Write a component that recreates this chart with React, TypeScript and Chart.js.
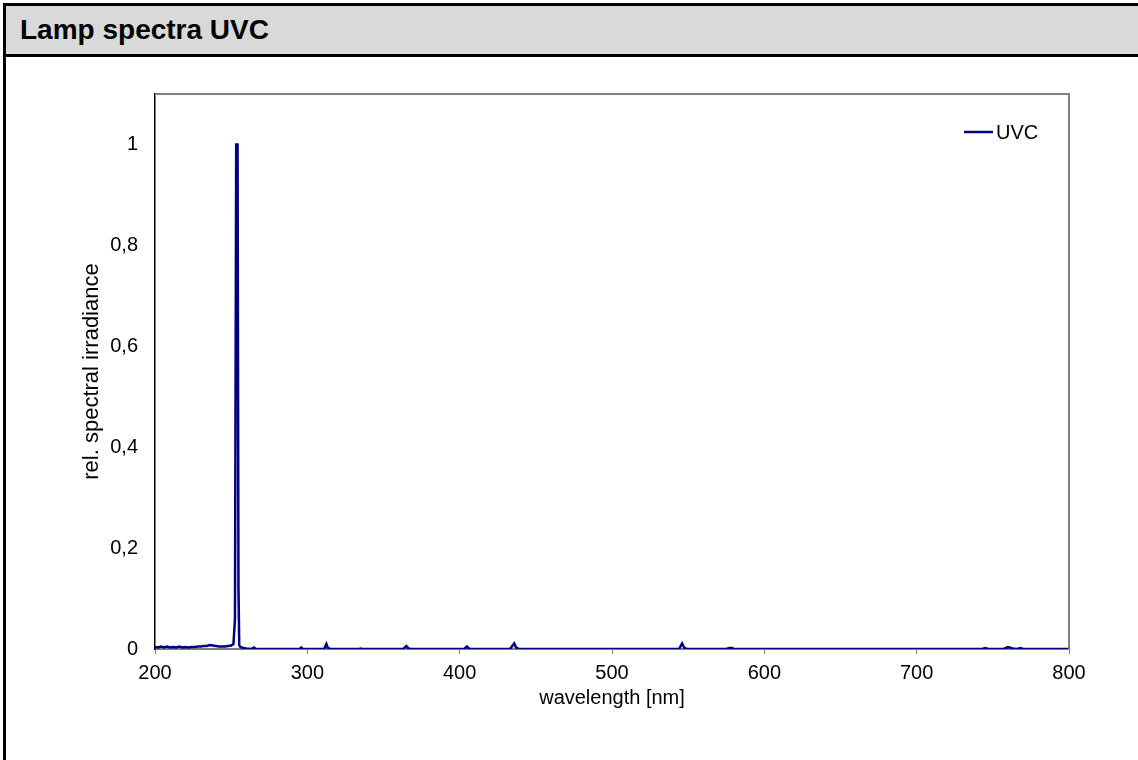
import React, { useEffect, useRef } from "react";
import { Chart, registerables } from "chart.js";

Chart.register(...registerables);

const TITLE = "Lamp spectra UVC";
const SERIES_LABEL = "UVC";
const X_TITLE = "wavelength [nm]";
const Y_TITLE = "rel. spectral irradiance";

const xTickValues = [200, 300, 400, 500, 600, 700, 800];
const yTickValues = [0, 0.2, 0.4, 0.6, 0.8, 1];
const yTickLabels = ["0", "0,2", "0,4", "0,6", "0,8", "1"];

const wavelengths = [
  200, 202, 204, 206, 208, 210, 212, 214, 216, 218, 220, 222, 224, 226, 228, 230,
  232, 234, 236, 238, 240, 242, 244, 246, 248, 250, 251.5, 252.5, 253.3, 254.2,
  254.8, 255.3, 256, 258, 260, 263, 265, 266, 270, 290, 295, 296, 297, 311, 312.5,
  313.5, 315, 334, 335, 336, 363, 365, 366.5, 368, 403, 404.7, 406, 407, 433, 435.8,
  437, 439, 544, 546, 547.5, 549, 575, 577, 579, 580, 600, 650, 700, 743, 745, 747,
  757, 760, 763, 766, 768, 770, 800,
];
const irradiance = [
  0.004, 0.003, 0.005, 0.003, 0.005, 0.003, 0.004, 0.003, 0.005, 0.003, 0.004, 0.003,
  0.004, 0.004, 0.005, 0.005, 0.006, 0.006, 0.008, 0.007, 0.006, 0.005, 0.005, 0.005,
  0.006, 0.007, 0.01, 0.06, 1.0, 1.0, 0.12, 0.008, 0.004, 0.002, 0.001, 0.0, 0.003,
  0.0, 0.0, 0.0, 0.0, 0.003, 0.0, 0.0, 0.01, 0.002, 0.0, 0.0, 0.001, 0.0, 0.0, 0.006,
  0.001, 0.0, 0.0, 0.005, 0.001, 0.0, 0.0, 0.011, 0.003, 0.0, 0.0, 0.011, 0.002, 0.0,
  0.0, 0.002, 0.002, 0.0, 0.0, 0.0, 0.0, 0.0, 0.002, 0.0, 0.0, 0.004, 0.001, 0.0,
  0.002, 0.0, 0.0,
];

const LINE_COLOR = "#000080";
const FONT_FAMILY = "'Liberation Sans', Arial, sans-serif";

const framePlugin = {
  id: "frameAndLegend",
  afterDatasetsDraw(chart: any) {
    const { ctx, chartArea } = chart;
    const { left, right, top, bottom } = chartArea;
    ctx.save();
    ctx.strokeStyle = "#7f7f7f";
    ctx.lineWidth = 2;
    ctx.beginPath();
    ctx.moveTo(left, top);
    ctx.lineTo(right, top);
    ctx.lineTo(right, bottom);
    ctx.stroke();
    // legend
    const ds = chart.data.datasets[0];
    const ly = top + 38;
    const lx = right - 105;
    ctx.strokeStyle = ds.borderColor;
    ctx.lineWidth = 2.5;
    ctx.beginPath();
    ctx.moveTo(lx, ly);
    ctx.lineTo(lx + 29, ly);
    ctx.stroke();
    ctx.fillStyle = "#000";
    ctx.font = `20px ${FONT_FAMILY}`;
    ctx.textBaseline = "middle";
    ctx.textAlign = "left";
    ctx.fillText(ds.label, lx + 32, ly + 1);
    ctx.restore();
  },
};

function SpectrumChart() {
  const ref = useRef<HTMLCanvasElement | null>(null);
  useEffect(() => {
    if (!ref.current) return;
    const points = wavelengths.map((x, i) => ({ x, y: irradiance[i] }));
    const chart = new Chart(ref.current, {
      type: "scatter",
      data: {
        datasets: [
          {
            label: SERIES_LABEL,
            data: points,
            showLine: true,
            borderColor: LINE_COLOR,
            backgroundColor: LINE_COLOR,
            borderWidth: 2.5,
            pointRadius: 0,
            tension: 0,
          },
        ],
      },
      options: {
        animation: false,
        responsive: false,
        devicePixelRatio: 1,
        layout: { padding: { top: 37, right: 69, left: 0, bottom: 0 } },
        plugins: { legend: { display: false }, tooltip: { enabled: false } },
        scales: {
          x: {
            type: "linear",
            min: 200,
            max: 800,
            afterFit: (s: any) => {
              s.height = 111;
            },
            afterBuildTicks: (s: any) => {
              s.ticks = xTickValues.map((v) => ({ value: v }));
            },
            grid: {
              display: true,
              drawOnChartArea: false,
              drawTicks: true,
              tickLength: 5,
              color: "#7f7f7f",
            },
            border: { display: true, color: "#7f7f7f", width: 2 },
            ticks: {
              color: "#000",
              font: { family: FONT_FAMILY, size: 20 },
              padding: 7,
              maxRotation: 0,
              autoSkip: false,
            },
            title: {
              display: true,
              text: X_TITLE,
              color: "#000",
              font: { family: FONT_FAMILY, size: 20 },
              padding: { top: 0, bottom: 50 },
            },
          },
          y: {
            type: "linear",
            min: 0,
            max: 1.1,
            afterFit: (s: any) => {
              s.width = 155;
            },
            afterBuildTicks: (s: any) => {
              s.ticks = yTickValues.map((v) => ({ value: v }));
            },
            grid: { display: false, drawTicks: false },
            border: { display: true, color: "#000", width: 1.5 },
            ticks: {
              color: "#000",
              font: { family: FONT_FAMILY, size: 20 },
              padding: 17,
              callback: (v: any) => {
                const i = yTickValues.findIndex((t) => Math.abs(t - Number(v)) < 1e-9);
                return i >= 0 ? yTickLabels[i] : "";
              },
            },
            title: {
              display: true,
              text: Y_TITLE,
              color: "#000",
              font: { family: FONT_FAMILY, size: 22 },
              padding: { top: 79, bottom: 0 },
            },
          },
        },
      },
      plugins: [framePlugin],
    });
    return () => chart.destroy();
  }, []);
  return (
    <canvas
      ref={ref}
      width={1138}
      height={703}
      style={{ position: "absolute", left: 0, top: 57, width: 1138, height: 703 }}
    />
  );
}

export default function App() {
  return (
    <div
      style={{
        position: "fixed",
        left: 0,
        top: 0,
        width: 1138,
        height: 760,
        overflow: "hidden",
        background: "#fff",
      }}
    >
      <div
        style={{
          position: "absolute",
          left: 3,
          top: 3,
          width: 1160,
          height: 800,
          border: "3px solid #000",
          boxSizing: "border-box",
        }}
      >
        <div
          style={{
            height: 51,
            boxSizing: "border-box",
            background: "#d9d9d9",
            borderBottom: "3px solid #000",
            display: "flex",
            alignItems: "center",
            paddingLeft: 14,
            fontFamily: FONT_FAMILY,
            fontWeight: "bold",
            fontSize: 28,
            color: "#000",
          }}
        >
          {TITLE}
        </div>
      </div>
      <SpectrumChart />
    </div>
  );
}
